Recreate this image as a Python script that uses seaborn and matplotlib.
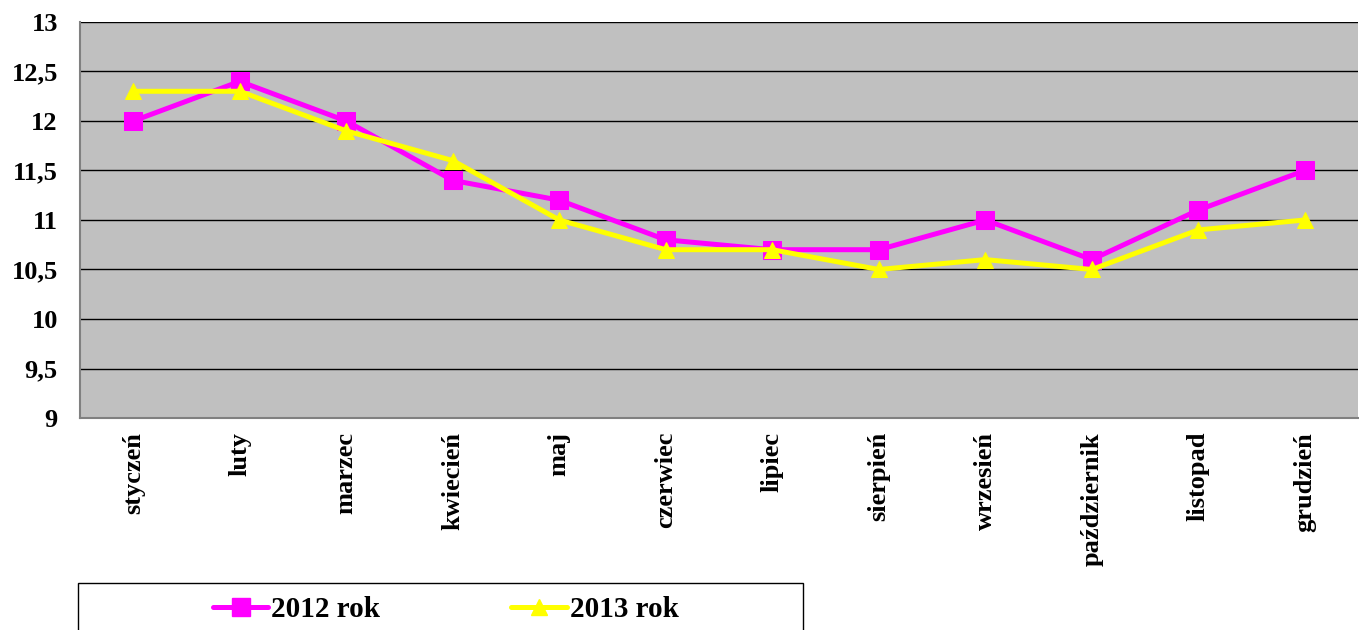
import numpy as np
import pandas as pd
import matplotlib
matplotlib.use("Agg")
import matplotlib.pyplot as plt
from matplotlib.lines import Line2D
from matplotlib.patches import Rectangle
from matplotlib.ticker import FuncFormatter, FixedLocator
import seaborn as sns

months = ["styczeń", "luty", "marzec", "kwiecień", "maj", "czerwiec",
          "lipiec", "sierpień", "wrzesień", "październik", "listopad", "grudzień"]
values_2012 = [12.0, 12.4, 12.0, 11.4, 11.2, 10.8, 10.7, 10.7, 11.0, 10.6, 11.1, 11.5]
values_2013 = [12.3, 12.3, 11.9, 11.6, 11.0, 10.7, 10.7, 10.5, 10.6, 10.5, 10.9, 11.0]
series_names = ["2012 rok", "2013 rok"]
y_ticks = [9, 9.5, 10, 10.5, 11, 11.5, 12, 12.5, 13]

df = pd.DataFrame({
    "pos": list(range(len(months))) * 2,
    "value": values_2012 + values_2013,
    "series": [series_names[0]] * 12 + [series_names[1]] * 12,
})

sns.set_theme(style="white")
plt.rcParams["font.family"] = ["Liberation Serif", "DejaVu Serif"]
plt.rcParams["font.weight"] = "bold"
plt.rcParams["text.color"] = "black"
plt.rcParams["xtick.color"] = "black"
plt.rcParams["ytick.color"] = "black"
plt.rcParams["xtick.labelcolor"] = "black"
plt.rcParams["ytick.labelcolor"] = "black"

colors = {"2012 rok": "#FF00FF", "2013 rok": "#FFFF00"}
markers = {"2012 rok": "s", "2013 rok": "^"}
msizes = {"2012 rok": 12.5, "2013 rok": 11.5}

fig = plt.figure(figsize=(13.59, 6.3), dpi=100)
ax = fig.add_axes([0.0589, 0.3365, 0.9404, 0.6286])
ax.set_facecolor("#C0C0C0")

for name in series_names:
    sub = df[df["series"] == name]
    sns.lineplot(data=sub, x="pos", y="value", ax=ax, color=colors[name],
                 linewidth=3.6, marker=markers[name], markersize=msizes[name],
                 markeredgecolor=colors[name], legend=False, sort=False)

ax.set_xlim(-0.5, len(months) - 0.5)
ax.set_ylim(9, 13)
ax.set_yticks(y_ticks)
ax.yaxis.set_major_formatter(FuncFormatter(
    lambda v, p: (f"{v:.1f}".replace(".", ",") if v % 1 else f"{int(v)}")))
ax.set_xticks(range(len(months)))
ax.set_xticklabels(months, rotation=90, fontsize=19, fontweight="bold", color="black")
ax.xaxis.set_minor_locator(FixedLocator(np.arange(-0.5, len(months), 1)))
ax.tick_params(axis="x", which="major", length=0, pad=10)
ax.tick_params(axis="x", which="minor", length=6, width=1, color="#808080", direction="out")
ax.tick_params(axis="y", which="major", length=6, width=1, color="#808080",
               direction="out", labelsize=19, pad=10, labelcolor="black")
for lab in ax.get_yticklabels():
    lab.set_fontweight("bold")
ax.set_xlabel("")
ax.set_ylabel("")

ax.grid(axis="y", color="black", linewidth=1)
ax.set_axisbelow(True)
for side in ["top", "right"]:
    ax.spines[side].set_visible(False)
for side in ["left", "bottom"]:
    ax.spines[side].set_color("#808080")
    ax.spines[side].set_linewidth(1.5)

# legend box at the bottom
fig.patches.append(Rectangle((0.0574, -0.02), 0.5335, 0.0946, transform=fig.transFigure,
                             facecolor="white", edgecolor="black", linewidth=1))
handles = [Line2D([], [], color=colors[n], linewidth=3.6, marker=markers[n],
                  markersize=msizes[n], markeredgecolor=colors[n]) for n in series_names]
fig.legend(handles, series_names, loc="center", bbox_to_anchor=(0.328, 0.032),
           ncol=2, frameon=False, prop={"size": 21, "weight": "bold"},
           labelcolor="black", handlelength=1.9, handletextpad=0.1, columnspacing=4.5)

fig.savefig("out.png", dpi=100)
